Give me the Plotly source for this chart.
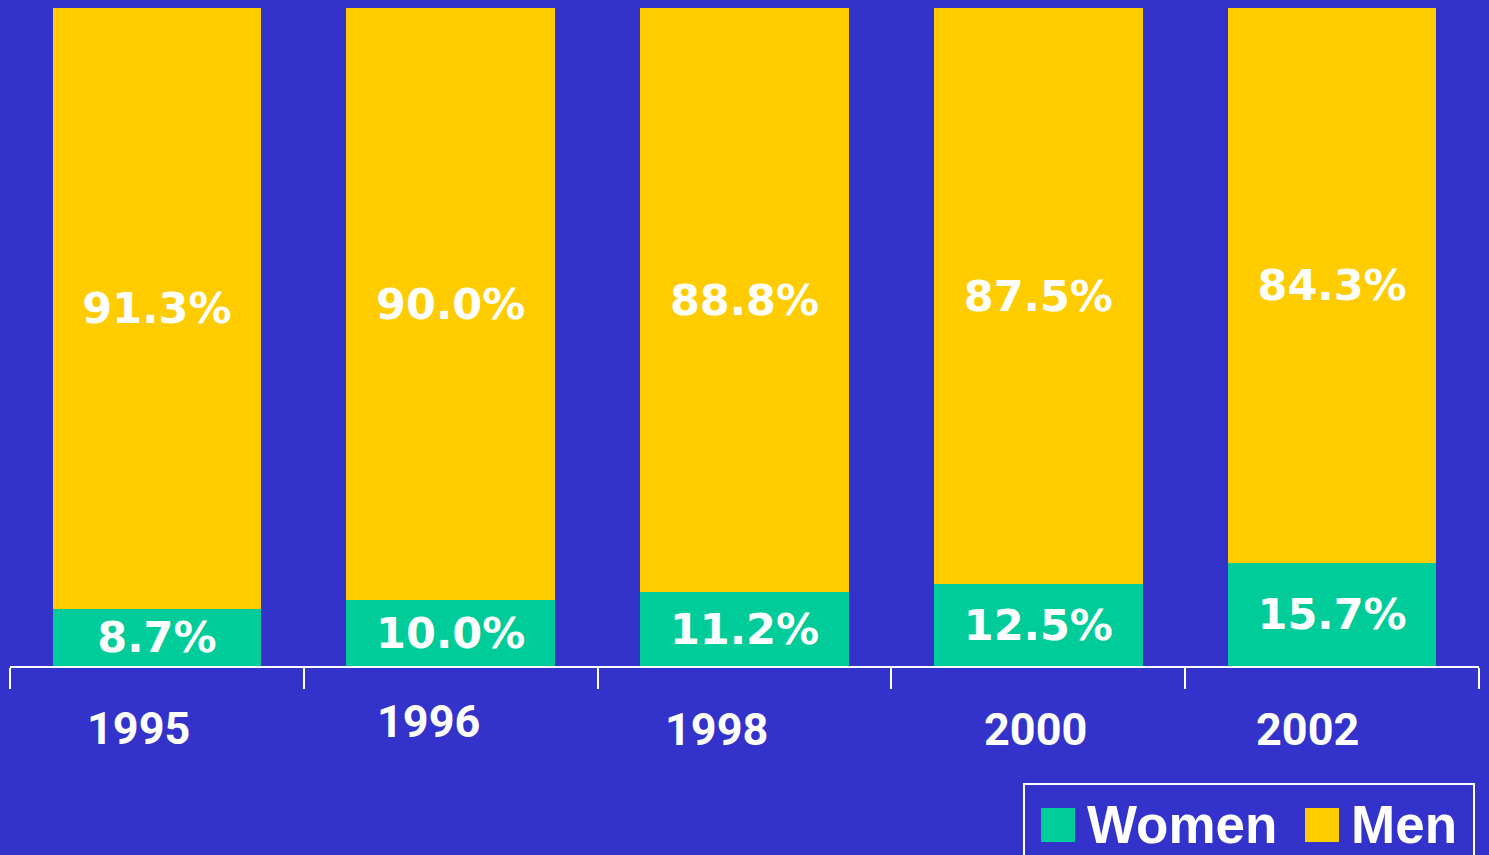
import plotly.graph_objects as go

years = ["1995", "1996", "1998", "2000", "2002"]
women = [8.7, 10.0, 11.2, 12.5, 15.7]
men = [91.3, 90.0, 88.8, 87.5, 84.3]
series_names = ["Women", "Men"]

BG = "#3333CC"
GREEN = "#00CC99"
YELLOW = "#FFCC00"
W, H = 1489, 855
ML, MR, MT, MB = 10, 10, 8, 189
PW, PH = W - ML - MR, H - MT - MB

def px_x(x):
    return (x - ML) / PW

def px_y(y):
    return (H - MB - y) / PH

fig = go.Figure()
for name, vals, col in [(series_names[0], women, GREEN), (series_names[1], men, YELLOW)]:
    fig.add_trace(go.Bar(
        x=years, y=vals, name=name, marker=dict(color=col, line=dict(width=0)),
        text=[f"{v:.1f}%" for v in vals], textposition="inside",
        insidetextanchor="middle", constraintext="none",
        textfont=dict(family="DejaVu Sans", size=43, color="white", weight="bold"),
        showlegend=False, hoverinfo="skip",
    ))

shapes = [
    dict(type="rect", xref="paper", yref="paper", x0=px_x(1024), x1=px_x(1474),
         y0=px_y(784), y1=px_y(870), line=dict(color="white", width=2), fillcolor=BG, layer="above"),
    dict(type="rect", xref="paper", yref="paper", x0=px_x(1041), x1=px_x(1075),
         y0=px_y(808), y1=px_y(842), line=dict(width=0), fillcolor=GREEN),
    dict(type="rect", xref="paper", yref="paper", x0=px_x(1305), x1=px_x(1339),
         y0=px_y(808), y1=px_y(842), line=dict(width=0), fillcolor=YELLOW),
]
legend_font = dict(family="Liberation Sans", size=53, color="white", weight="bold")
annotations = [
    dict(xref="paper", yref="paper", x=px_x(1085), y=px_y(824), xanchor="left", yanchor="middle",
         text=series_names[0], showarrow=False, font=legend_font),
    dict(xref="paper", yref="paper", x=px_x(1349), y=px_y(824), xanchor="left", yanchor="middle",
         text=series_names[1], showarrow=False, font=legend_font),
]
# year labels (slightly offset as in the reference)
label_dx = [-18, -22, -28, -3, -25]
label_y = [728, 722, 729, 729, 729]
for i, (yr, dx, ly) in enumerate(zip(years, label_dx, label_y)):
    annotations.append(dict(xref="x", yref="paper", x=i, y=px_y(ly), xshift=dx,
                            xanchor="center", yanchor="middle", text=yr, showarrow=False,
                            font=dict(family="Roboto", size=45, color="white", weight="bold")))

fig.update_layout(
    width=W, height=H, paper_bgcolor=BG, plot_bgcolor=BG,
    margin=dict(l=ML, r=MR, t=MT, b=MB),
    barmode="stack", bargap=0.29,
    shapes=shapes, annotations=annotations,
    xaxis=dict(type="category", showline=True, linecolor="white", linewidth=2, ticks="outside",
               tickson="boundaries", ticklen=21, tickwidth=2, tickcolor="white",
               showgrid=False, zeroline=False, showticklabels=False),
    yaxis=dict(range=[0, 100], visible=False, showgrid=False, zeroline=False),
)

fig.write_html("out.html", config={"displayModeBar": False},
               post_script="document.body.style.margin='0';document.body.style.overflow='hidden';")
